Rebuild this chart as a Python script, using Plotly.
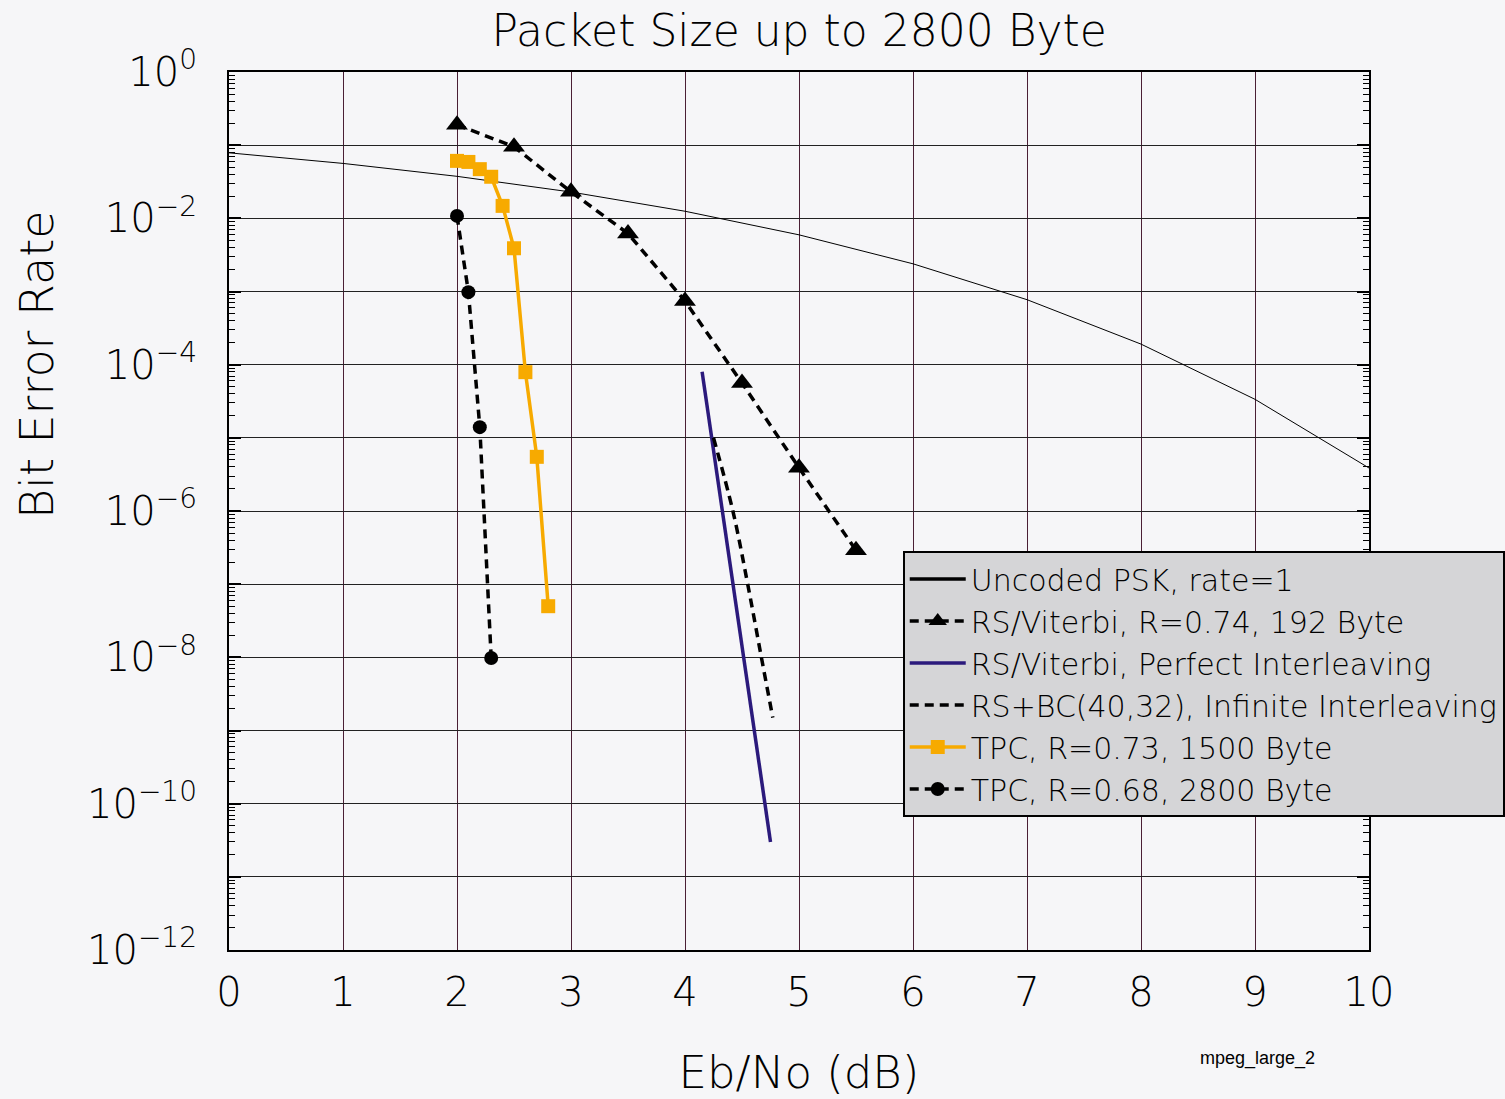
import plotly.graph_objects as go

# Uncoded PSK
unc_x = [0, 1, 2, 3, 4, 5, 6, 7, 8, 9, 10]
unc_y = [0.0786, 0.0563, 0.0375, 0.0229, 0.0125, 0.00595, 0.00239, 7.73e-4, 1.91e-4, 3.36e-5, 3.87e-6]

# RS/Viterbi, R=0.74, 192 Byte
rsv_x = [2, 2.5, 3, 3.5, 4, 4.5, 5, 5.5]
rsv_y = [0.19, 0.095, 0.023, 0.0062, 7.4e-4, 5.6e-5, 3.9e-6, 2.9e-7]

# RS/Viterbi, Perfect Interleaving
pi_x = [4.15, 4.75]
pi_y = [8e-5, 3e-11]

# RS+BC(40,32), Infinite Interleaving
bc_x = [4.25, 4.42, 4.55, 4.67, 4.77]
bc_y = [1e-5, 1e-6, 1e-7, 1e-8, 1.5e-9]

# TPC, R=0.73, 1500 Byte
tpc1_x = [2.0, 2.1, 2.2, 2.3, 2.4, 2.5, 2.6, 2.7, 2.8]
tpc1_y = [0.061, 0.059, 0.047, 0.037, 0.0148, 0.0039, 7.9e-5, 5.5e-6, 5.0e-8]

# TPC, R=0.68, 2800 Byte
tpc2_x = [2.0, 2.1, 2.2, 2.3]
tpc2_y = [0.0108, 9.8e-4, 1.4e-5, 9.8e-9]

x_ticks = list(range(0, 11))
y_exps = list(range(0, -13, -1))

FONT = "DejaVu Sans"
FW = 200
BG = "#f6f6f8"

fig = go.Figure()
fig.add_trace(go.Scatter(x=unc_x, y=unc_y, mode="lines", name="Uncoded PSK, rate=1",
                         line=dict(color="black", width=1), showlegend=False))
fig.add_trace(go.Scatter(x=[None], y=[None], mode="lines", name="Uncoded PSK, rate=1",
                         line=dict(color="black", width=3.5)))
fig.add_trace(go.Scatter(x=rsv_x, y=rsv_y, mode="lines+markers", name="RS/Viterbi, R=0.74, 192 Byte",
                         line=dict(color="black", width=3.5, dash="9px,6px"),
                         marker=dict(symbol="triangle-up", size=19, color="black")))
fig.add_trace(go.Scatter(x=pi_x, y=pi_y, mode="lines", name="RS/Viterbi, Perfect Interleaving",
                         line=dict(color="#2b1a7c", width=3.5)))
fig.add_trace(go.Scatter(x=bc_x, y=bc_y, mode="lines", name="RS+BC(40,32), Infinite Interleaving",
                         line=dict(color="black", width=3.5, dash="9px,6px", shape="spline")))
fig.add_trace(go.Scatter(x=tpc1_x, y=tpc1_y, mode="lines+markers", name="TPC, R=0.73, 1500 Byte",
                         line=dict(color="#f7aa00", width=3.5),
                         marker=dict(symbol="square", size=14, color="#f7aa00")))
fig.add_trace(go.Scatter(x=tpc2_x, y=tpc2_y, mode="lines+markers", name="TPC, R=0.68, 2800 Byte",
                         line=dict(color="black", width=3.5, dash="9px,6px"),
                         marker=dict(symbol="circle", size=14, color="black")))

def ylab(e):
    if e % 2 != 0:
        return ""
    if e == 0:
        return "10<sup>0</sup>"
    return "10<sup>\u2212%d</sup>" % (-e)

fig.update_layout(
    width=1505, height=1099,
    margin=dict(l=229, r=136, t=72, b=149, autoexpand=False),
    paper_bgcolor=BG, plot_bgcolor=BG,
    font=dict(family=FONT, color="black", weight=FW),
    title=dict(text="Packet Size up to 2800 Byte", x=0.531, xanchor="center", y=0.972, yanchor="middle",
               font=dict(size=44, family=FONT, weight=FW)),
    showlegend=True,
    legend=dict(x=0.591, y=0.4544, xanchor="left", yanchor="top",
                bgcolor="#d5d5d7", bordercolor="black", borderwidth=2,
                itemwidth=56,
                font=dict(size=30, family=FONT, weight=FW), tracegroupgap=0),
    xaxis=dict(range=[0, 10], tickvals=x_ticks, ticktext=[str(v) for v in x_ticks],
               showgrid=True, gridcolor="#4a1f35", gridwidth=1.2, automargin=False,
               showline=True, linecolor="black", linewidth=2, mirror=True,
               ticks="", tickfont=dict(size=40, weight=FW), zeroline=False, ticklabelstandoff=6,
               title=dict(text="Eb/No (dB)", font=dict(size=45, weight=FW), standoff=42)),
    yaxis=dict(type="log", range=[-12, 0], automargin=False,
               tickvals=[10.0 ** e for e in y_exps], ticktext=[ylab(e) for e in y_exps],
               showgrid=True, gridcolor="#222222", gridwidth=1.2,
               showline=True, linecolor="black", linewidth=2, mirror="allticks",
               ticks="inside", ticklen=12, tickwidth=1.5, tickcolor="black",
               minor=dict(ticks="inside", ticklen=6, tickwidth=1, tickcolor="black", showgrid=False, dtick="D1"),
               tickfont=dict(size=40, weight=FW), zeroline=False, ticklabelstandoff=22),
    annotations=[
        dict(text="Bit Error Rate", x=(37 - 229) / 1140, y=(950 - 365) / 878, xref="paper", yref="paper",
             textangle=-90, showarrow=False, xanchor="center", yanchor="middle",
             font=dict(size=46, family=FONT, weight=FW)),
        dict(text="mpeg_large_2", x=(1257 - 229) / 1140, y=(950 - 1058) / 878,
             xref="paper", yref="paper", xanchor="center", yanchor="middle",
             showarrow=False, font=dict(size=18, family="Liberation Sans")),
    ],
)

fig.write_html("out.html", config={"displayModeBar": False},
               post_script="document.body.style.margin='0';document.body.style.background='%s';" % BG)
